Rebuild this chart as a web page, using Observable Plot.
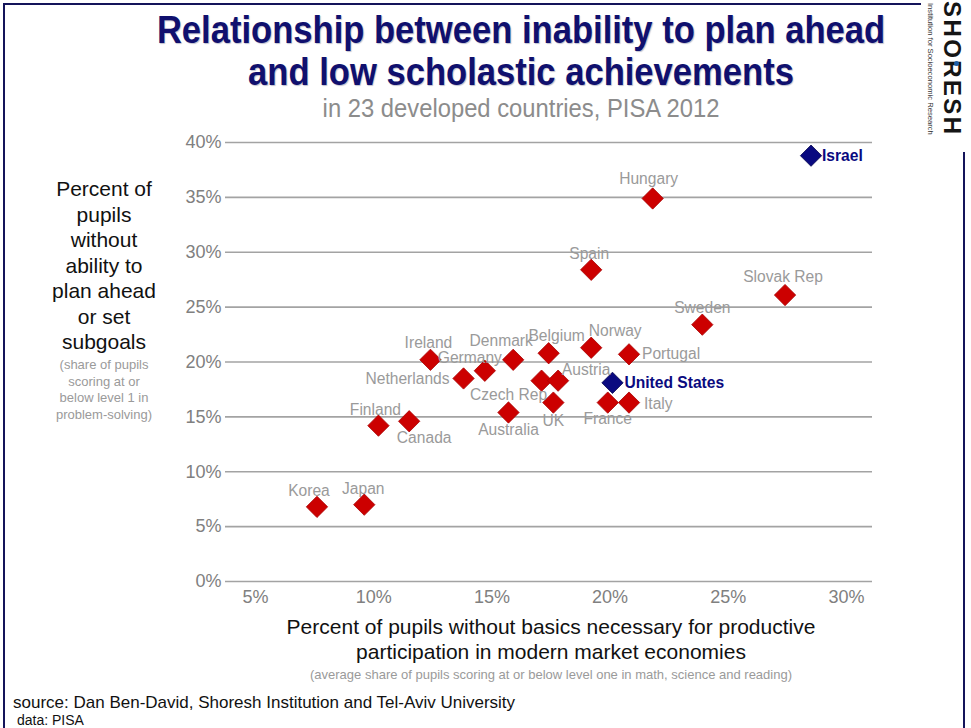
<!DOCTYPE html>
<html>
<head>
<meta charset="utf-8">
<script src="https://cdn.jsdelivr.net/npm/d3@7"></script>
<script src="https://cdn.jsdelivr.net/npm/@observablehq/plot@0.6"></script>
<style>
  html, body { margin: 0; padding: 0; background: #fff; }
  body { width: 971px; height: 728px; overflow: hidden; position: relative; font-family: "Liberation Sans", Arial, sans-serif; }
  .abs { position: absolute; white-space: nowrap; }
  #frame { position: absolute; left: 3px; top: 3px; width: 962px; height: 760px; border: 2px solid #14145a; box-sizing: border-box; z-index: 5; pointer-events: none; }
  #logo { position: absolute; left: 921px; top: 0; width: 50px; height: 152px; background: #fff; z-index: 6; }
  #chart { position: absolute; left: 0; top: 0; z-index: 1; }
  .txt { z-index: 4; }
</style>
</head>
<body>
<div id="chart"></div>
<div id="frame"></div>
<div id="logo">
  <div class="abs" style="left:43px;top:1px;transform-origin:0 0;transform:rotate(90deg);font-weight:bold;font-size:24px;letter-spacing:2.4px;color:#151515;line-height:24px;">SHORESH</div>
  <div class="abs" style="left:14px;top:3px;transform-origin:0 0;transform:rotate(90deg);font-size:7.6px;color:#333;line-height:9px;">Institution for Socioeconomic Research</div>
  <div class="abs" style="left:33px;top:61px;width:5px;height:5px;border-radius:50%;background:#1f5fa8;"></div>
</div>

<div class="abs txt" style="left:21px;top:9px;width:1000px;text-align:center;transform:scaleX(0.91);transform-origin:50% 0;font-weight:bold;font-size:38px;line-height:42px;color:#10106e;text-shadow:1px 1px 1px rgba(0,0,60,0.25);">Relationship between inability to plan ahead<br>and low scholastic achievements</div>
<div class="abs txt" style="left:21px;top:95px;width:1000px;text-align:center;transform:scaleX(0.915);transform-origin:50% 0;font-size:26px;line-height:26px;color:#8c8c8c;">in 23 developed countries, PISA 2012</div>

<div class="abs txt" style="left:4px;top:176px;width:200px;text-align:center;font-size:21px;line-height:25.5px;color:#111;">Percent of<br>pupils<br>without<br>ability to<br>plan ahead<br>or set<br>subgoals</div>
<div class="abs txt" style="left:4px;top:357px;width:200px;text-align:center;font-size:13px;line-height:16.5px;color:#9a9a9a;">(share of pupils<br>scoring at or<br>below level 1 in<br>problem-solving)</div>

<div class="abs txt" style="left:51px;top:614px;width:1000px;text-align:center;font-size:21px;line-height:25px;color:#111;">Percent of pupils without basics necessary for productive<br>participation in modern market economies</div>
<div class="abs txt" style="left:51px;top:667px;width:1000px;text-align:center;font-size:13px;line-height:16px;color:#9a9a9a;">(average share of pupils scoring at or below level one in math, science and reading)</div>

<div class="abs txt" style="left:13px;top:693px;font-size:17px;line-height:20px;color:#111;">source: Dan Ben-David, Shoresh Institution and Tel-Aviv University</div>
<div class="abs txt" style="left:17px;top:712px;font-size:14px;line-height:16px;color:#111;">data: PISA</div>

<script>
// ---- data ----
const countries = ["Korea","Japan","Finland","Canada","Ireland","Netherlands","Germany","Australia","Denmark","Czech Rep","Belgium","UK","Austria","Spain","Norway","France","United States","Portugal","Italy","Hungary","Sweden","Slovak Rep","Israel"];
// % without basics (avg share at or below level one in math, science, reading)
const basics   = [7.6, 9.6, 10.2, 11.5, 12.4, 13.8, 14.7, 15.7, 15.9, 17.1, 17.4, 17.6, 17.8, 19.2, 19.2, 19.9, 20.1, 20.8, 20.8, 21.8, 23.9, 27.4, 28.5];
// % unable to plan ahead (at or below level 1 in problem-solving)
const planning = [6.8, 7.0, 14.2, 14.6, 20.2, 18.5, 19.2, 15.4, 20.2, 18.3, 20.8, 16.3, 18.3, 28.4, 21.3, 16.3, 18.1, 20.7, 16.3, 34.9, 23.4, 26.1, 38.8];
const highlighted = ["Israel", "United States"];
const xTicks = [5, 10, 15, 20, 25, 30];
const yTicks = [0, 5, 10, 15, 20, 25, 30, 35, 40];

// label placement (pixel offsets from the marker, and anchor)
const labelPlacement = {
  "Korea": [-8, -16, "middle"], "Japan": [-1, -16, "middle"], "Finland": [-3, -16, "middle"],
  "Canada": [15, 17, "middle"], "Ireland": [-2, -17, "middle"], "Netherlands": [-14, 1, "end"],
  "Germany": [-15, -13, "middle"], "Australia": [0, 18, "middle"], "Denmark": [-12, -19, "middle"],
  "Czech Rep": [-33, 14, "middle"], "Belgium": [8, -17, "middle"], "UK": [0, 18, "middle"],
  "Austria": [28, -11, "middle"], "Spain": [-2, -16, "middle"], "Norway": [24, -17, "middle"],
  "France": [0, 16, "middle"], "United States": [12, 0, "start"], "Portugal": [13, 0, "start"],
  "Italy": [15, 1, "start"], "Hungary": [-4, -19, "middle"], "Sweden": [0, -17, "middle"],
  "Slovak Rep": [-2, -18, "middle"], "Israel": [11, 0, "start"]
};

const data = countries.map((c, i) => ({country: c, basics: basics[i], planning: planning[i], hi: highlighted.includes(c)}));

const FONT = "'Liberation Sans', Arial, sans-serif";
const RED = "#cc0000", NAVY = "#0a0a80";

const labelMarks = data.map(d => {
  const [dx, dy, anchor] = labelPlacement[d.country];
  return Plot.text([d], {
    x: "basics", y: "planning", text: "country",
    dx, dy, textAnchor: anchor,
    fill: d.hi ? NAVY : "#9a9a9a",
    fontWeight: d.hi ? "bold" : "normal",
    fontSize: 15.6, fontFamily: FONT
  });
});

const chart = Plot.plot({
  width: 971,
  height: 620,
  marginLeft: 225,
  marginRight: 99,
  marginTop: 142,
  marginBottom: 39,
  style: {fontFamily: FONT, fontSize: "18px", color: "#808080", background: "transparent", overflow: "visible"},
  x: {domain: [3.73, 31.1]},
  y: {domain: [0, 40]},
  marks: [
    Plot.gridY(yTicks, {stroke: "#a3a3a3", strokeOpacity: 1, strokeWidth: 1.6}),
    Plot.axisY(yTicks, {tickSize: 0, tickPadding: 4, tickFormat: d => d + "%", fontSize: 18, label: null}),
    Plot.axisX(xTicks, {tickSize: 0, tickPadding: 9, tickFormat: d => d + "%", fontSize: 18, label: null}),
    Plot.dot(data, {x: "basics", y: "planning", symbol: "diamond2", r: 9.6,
      fill: d => d.hi ? NAVY : RED, stroke: d => d.hi ? "#06064f" : "#a80000", strokeWidth: 0.8}),
    ...labelMarks
  ]
});
document.getElementById("chart").appendChild(chart);
</script>
</body>
</html>
